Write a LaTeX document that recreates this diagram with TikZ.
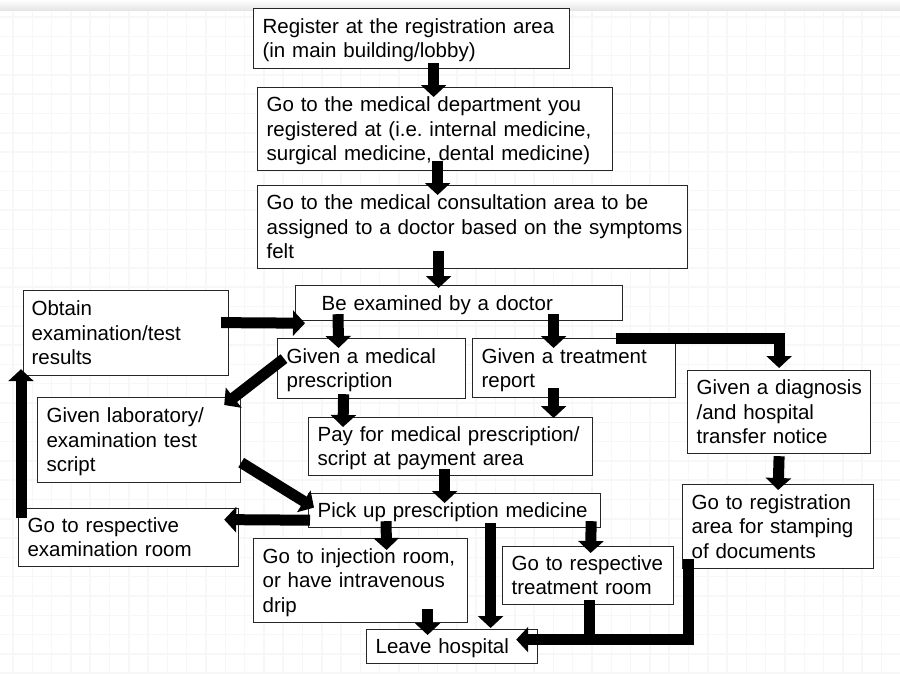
\documentclass[tikz,border=0pt]{standalone}
\usepackage{fontspec}
\setmainfont{Liberation Sans}
\usetikzlibrary{arrows.meta}
\frenchspacing
\newcommand\mystrut{\rule[-5pt]{0pt}{24.3pt}}
\newcommand\bx[7]{\node[box, minimum width=#4pt, minimum height=#5pt, inner xsep=#6pt, text width=\dimexpr#4pt-#6pt-#6pt\relax] (#1) at (#2,#3) {#7};}
\tikzset{
  box/.style={draw=black!85, line width=1.2pt, fill=white, anchor=north west, align=left,
    inner ysep=0pt, font=\fontsize{20.5pt}{24.3pt}\selectfont,
    execute at begin node={\rightskip=-80pt plus 1fil\hyphenpenalty=10000\mystrut},
    execute at end node=\mystrut},
  arr/.style={line width=11pt, -{Triangle[width=25pt,length=12pt]}},
  shaft/.style={line width=11pt},
  gridline/.style={black!3, line width=1.5pt}
}
\begin{document}
\begin{tikzpicture}[x=1pt,y=-1pt]
\useasboundingbox (0,0) rectangle (900,673);
\fill[white] (0,0) rectangle (900,673);
% faint graph-paper background
\foreach \i in {0,...,46} {\draw[gridline] ({13+\i*19.3},0) -- ({13+\i*19.3},673);}
\foreach \i in {0,...,34} {\draw[gridline] (0,{17+\i*19.3}) -- (900,{17+\i*19.3});}
\shade[top color=white, bottom color=black!10] (0,0) rectangle (900,10);

% boxes
\bx{reg}{253}{8}{316}{60}{9}{Register at the registration area\\(in main building/lobby)}
\bx{dept}{257}{87}{355}{83}{9}{Go to the medical department you\\registered at (i.e. internal medicine,\\surgical medicine, dental medicine)}
\bx{consult}{257}{185}{430}{83}{9}{Go to the medical consultation area to be\\assigned to a doctor based on the symptoms\\felt}
\bx{exam}{295}{285}{327}{35}{26}{Be examined by a doctor}
\bx{obtain}{23}{290}{205}{85}{8}{Obtain\\examination/test\\results}
\bx{medpres}{277}{338}{188}{60}{9}{Given a medical\\prescription}
\bx{treatrep}{472}{338}{203}{59}{9}{Given a treatment\\report}
\bx{diag}{687}{370}{183}{83}{9}{Given a diagnosis\\/and hospital\\transfer notice}
\bx{lab}{37}{397}{203}{85}{9}{Given laboratory/\\examination test\\script}
\bx{pay}{308}{417}{284}{58}{9}{Pay for medical prescription/\\script at payment area}
\bx{pickup}{308}{493}{292}{34}{9}{Pick up prescription medicine}
\bx{examroom}{18}{508}{220}{58}{9}{Go to respective\\examination room}
\bx{inject}{253}{538}{214}{84}{9}{Go to injection room,\\or have intravenous\\drip}
\bx{treatroom}{502}{546}{171}{58}{9}{Go to respective\\treatment room}
\bx{stamp}{682}{484}{191}{84}{9}{Go to registration\\area for stamping\\of documents}
\bx{leave}{366}{629}{171}{34}{9}{Leave hospital}

% arrows
\draw[arr] ([xshift=22pt,yshift=6pt]reg.south) -- ([xshift=-1.5pt,yshift=-10pt]dept.north);
\draw[arr] ([xshift=2.5pt,yshift=10pt]dept.south) -- ([xshift=-35pt,yshift=-10pt]consult.north);
\draw[arr] ([xshift=-34pt,yshift=18pt]consult.south) -- ([xshift=-20.5pt,yshift=-3pt]exam.north);
\draw[arr] ([xshift=-8pt,yshift=10.5pt]obtain.east) -- ([xshift=10pt,yshift=-2pt]exam.south west);
\draw[arr] ([xshift=43pt,yshift=7pt]exam.south west) -- ([xshift=-33pt,yshift=-10pt]medpres.north);
\draw[arr] ([xshift=94.5pt,yshift=7pt]exam.south) -- ([xshift=-20.5pt,yshift=-10pt]treatrep.north);
\draw[arr] ([xshift=-7pt,yshift=-17pt]exam.south east) -| ([yshift=2pt]diag.north);
\draw[arr] ([yshift=-2pt]diag.south) -- ([yshift=-6pt]stamp.north);
\draw[arr] ([xshift=-28pt,yshift=5pt]medpres.south) -- ([xshift=35pt,yshift=-10pt]pay.north west);
\draw[arr] ([xshift=-20.5pt,yshift=10pt]treatrep.south) -- ([xshift=103pt,yshift=-1pt]pay.north);
\draw[arr] ([xshift=-6pt,yshift=7pt]pay.south) -- ([xshift=-10pt,yshift=-10pt]pickup.north);
\draw[arr] ([xshift=7pt,yshift=10pt]medpres.west) -- ([xshift=-17pt,yshift=-8pt]lab.north east);
\draw[arr] ([yshift=-22.5pt]lab.east) -- ([xshift=6pt,yshift=3pt]pickup.west);
\draw[arr] ([xshift=2pt,yshift=8pt]pickup.south west) -- ([xshift=-15pt,yshift=18pt]examroom.east);
\draw[arr] ([xshift=3pt,yshift=-10pt]examroom.north west) -- ([xshift=-2pt,yshift=7pt]obtain.south west);
\draw[arr] ([xshift=78pt,yshift=7pt]pickup.south west) -- ([xshift=26pt,yshift=-12pt]inject.north);
\draw[arr] ([xshift=36pt,yshift=5pt]pickup.south) -- ([xshift=38.5pt,yshift=1pt]leave.north);
\draw[arr] ([xshift=-10pt,yshift=7pt]pickup.south east) -- ([xshift=2.5pt,yshift=-7pt]treatroom.north);
\draw[arr] ([xshift=67pt,yshift=14pt]inject.south) -- ([xshift=-24.5pt,yshift=-6pt]leave.north);
\path ([xshift=-22pt,yshift=7pt]leave.east) coordinate (lvin);
\draw[shaft] ([xshift=1.5pt,yshift=5pt]treatroom.south) -- ([xshift=1.5pt]treatroom.south |- lvin);
\draw[arr] ([xshift=6pt,yshift=10pt]stamp.south west) |- (lvin);
\end{tikzpicture}
\end{document}
